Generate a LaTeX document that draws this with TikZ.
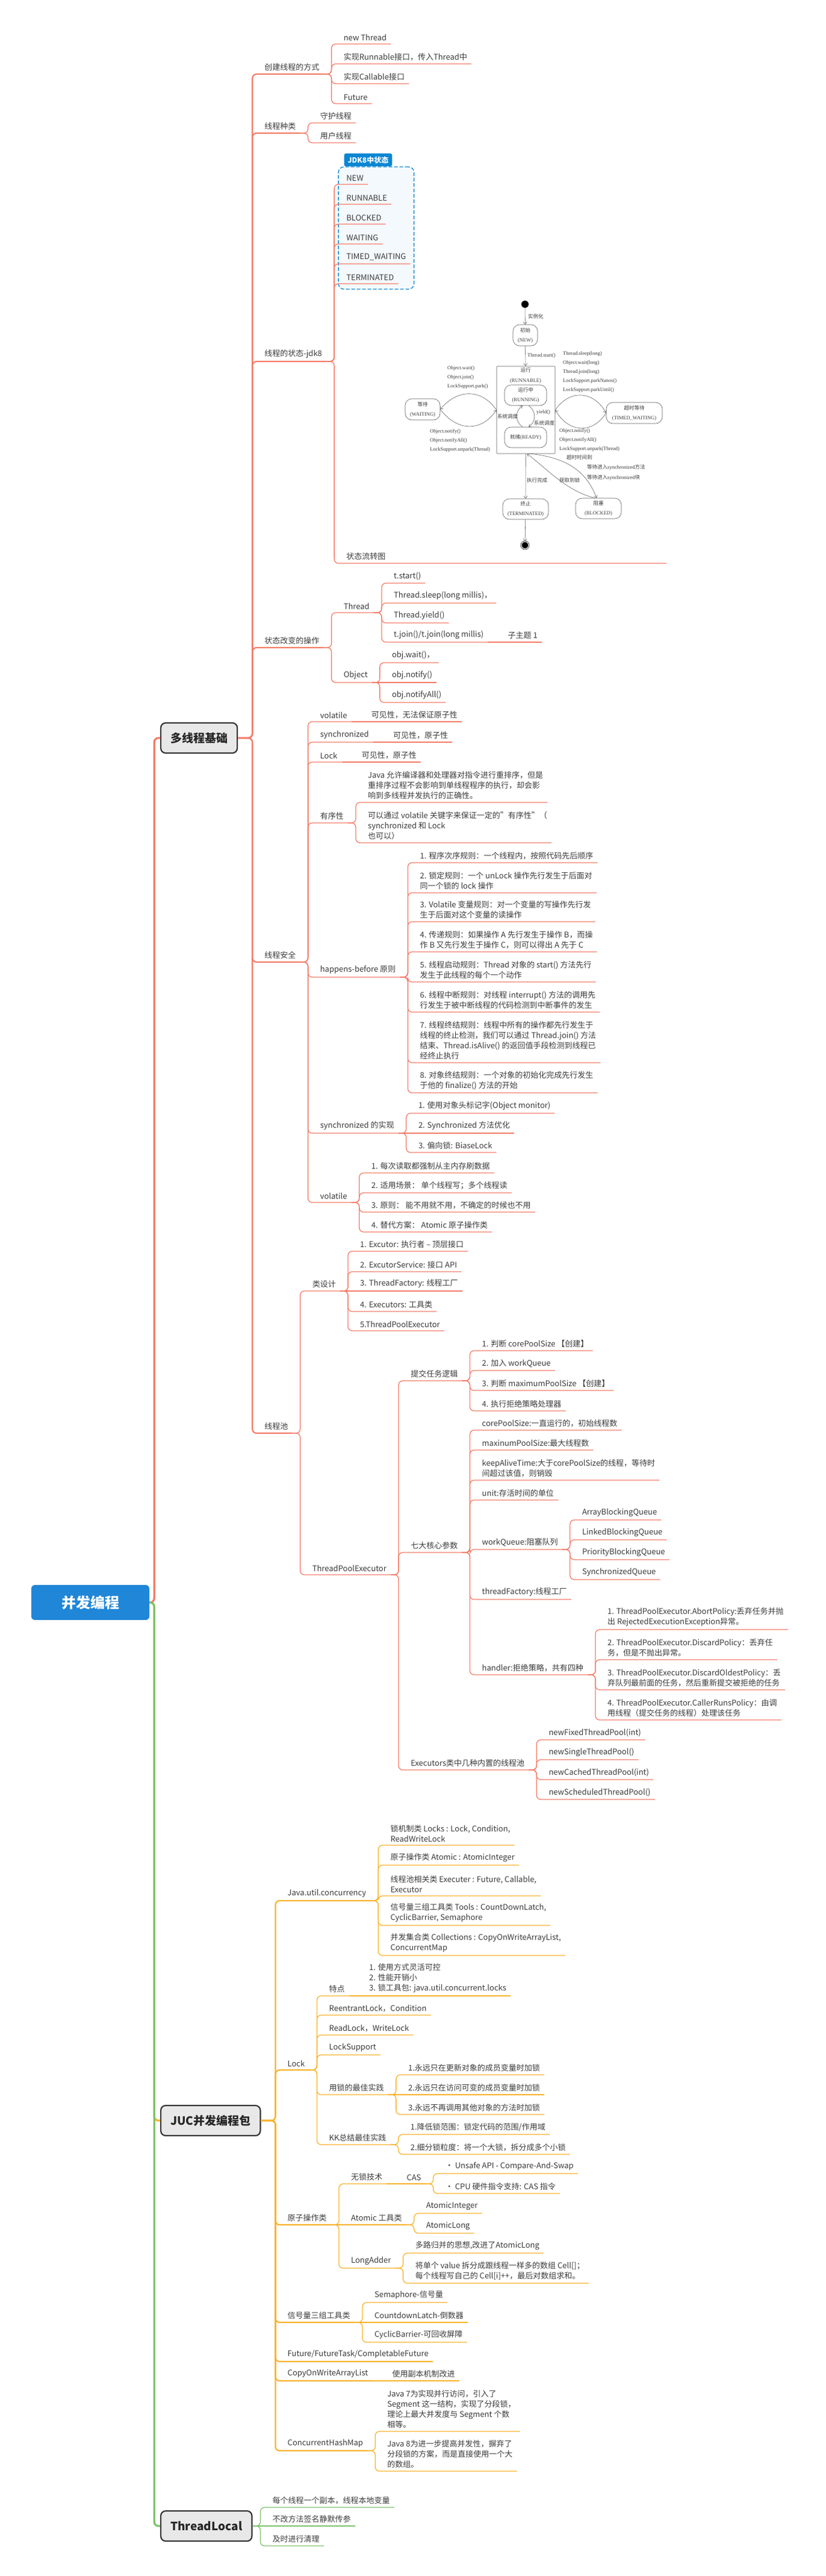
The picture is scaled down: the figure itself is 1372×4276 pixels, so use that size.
\documentclass[tikz,border=0pt]{standalone}
\usepackage{fontspec}
\setmainfont{Noto Sans CJK SC}
\newfontfamily\cjk{Noto Sans CJK SC}
\newfontfamily\dgfont{Liberation Serif}
\usetikzlibrary{fit,arrows.meta}
\pgfdeclarelayer{bg}
\pgfsetlayers{bg,main}

\definecolor{redline}{HTML}{F47B67}
\definecolor{ornline}{HTML}{F9B22A}
\definecolor{grnline}{HTML}{7CC26A}
\definecolor{txtgray}{HTML}{3C3C3C}
\definecolor{boxfill}{HTML}{E8E8E8}
\definecolor{boxline}{HTML}{353535}
\definecolor{rootblue}{HTML}{1F86D8}
\definecolor{jdkblue}{HTML}{0A86D2}
\definecolor{jdkfill}{HTML}{F4F9FE}
\definecolor{dgline}{HTML}{5A5A5A}

\tikzset{
  topic/.style={anchor=south west, inner xsep=7pt, inner ysep=5pt, align=left, text=txtgray, font=\fontsize{13}{17}\selectfont},
  mainbox/.style={anchor=west, draw=boxline, line width=2.2pt, fill=boxfill, rounded corners=8pt, inner xsep=16pt, minimum height=50pt, text=black!85, font=\fontsize{19}{22}\selectfont\bfseries},
  rootbox/.style={fill=rootblue, rounded corners=6pt, minimum width=196pt, minimum height=58pt, text=white, font=\fontsize{24}{28}\selectfont\bfseries},
  redbr/.style={draw=redline, line width=1.3pt, rounded corners=7pt},
  redmain/.style={redbr, line width=2.2pt},
  redtrunk/.style={redbr, line width=3.2pt},
  ornbr/.style={draw=ornline, line width=1.3pt, rounded corners=7pt},
  ornmain/.style={ornbr, line width=2.2pt},
  orntrunk/.style={ornbr, line width=3.2pt},
  grnbr/.style={draw=grnline, line width=1.3pt, rounded corners=7pt},
  grnmain/.style={grnbr, line width=2.2pt},
  grntrunk/.style={grnbr, line width=3.2pt},
  jdkbox/.style={draw=jdkblue, dash pattern=on 6pt off 3pt, line width=1.3pt, fill=jdkfill, rounded corners=9pt, inner xsep=6pt, inner ysep=9pt},
  jdktab/.style={anchor=south west, fill=jdkblue, text=white, rounded corners=3pt, inner xsep=6pt, inner ysep=5pt, font=\fontsize{12}{14}\selectfont\bfseries},
  stbox/.style={draw=dgline, line width=0.6pt, rounded corners=11pt, align=center, inner sep=1pt, text=txtgray, font=\dgfont\fontsize{8.5}{16}\selectfont},
  dgrect/.style={draw=dgline, line width=0.6pt, rounded corners=1pt, minimum width=97pt, minimum height=145pt, inner sep=0pt},
  dglabel/.style={anchor=west, align=left, inner sep=1pt, text=txtgray, font=\dgfont\fontsize{8.5}{15}\selectfont},
  dgarr/.style={draw=dgline, line width=0.55pt, -{Straight Barb[length=4pt,width=6pt]}},
  startdot/.style={circle, fill=black, inner sep=0pt, minimum size=12pt},
  enddot/.style={circle, fill=black, draw=black, double=white, double distance=1.2pt, line width=0.7pt, inner sep=0pt, minimum size=12pt}
}

\begin{document}
\begin{tikzpicture}[x=1pt,y=-1pt]
\useasboundingbox (0,0) rectangle (1372,4276);
\begin{pgfonlayer}{bg}
\fill[white] (0,0) rectangle (1372,4276);
\end{pgfonlayer}

\node[rootbox] (root) at (150,2660) {并发编程};
\node[mainbox] (base) at (266,1225) {多线程基础};
\node[mainbox] (juc) at (266,3520) {JUC并发编程包};
\node[mainbox] (tl) at (266,4193) {ThreadLocal};

\coordinate (rootJ) at ([xshift=8pt]root.east);
\draw[redtrunk] (root.east) -- (rootJ) |- (base.west);
\draw[orntrunk] (root.east) -- (rootJ) |- (juc.west);
\draw[grntrunk] (root.east) -- (rootJ) |- (tl.west);

\coordinate (baseJ) at ([xshift=24pt]base.east);
\node[topic] (tCreate) at ([xshift=13pt]baseJ |- 0,123) {创建线程的方式};
\node[topic] (tKind) at ([xshift=13pt]baseJ |- 0,221) {线程种类};
\node[topic] (tState) at ([xshift=13pt]baseJ |- 0,600) {线程的状态-jdk8};
\node[topic] (tOps) at ([xshift=13pt]baseJ |- 0,1075) {状态改变的操作};
\node[topic] (tSafe) at ([xshift=13pt]baseJ |- 0,1597) {线程安全};
\node[topic] (tPool) at ([xshift=13pt]baseJ |- 0,2379) {线程池};
\draw[redmain] (base.east) -- (baseJ) |- (tCreate.south east);
\draw[redmain] (base.east) -- (baseJ) |- (tKind.south east);
\draw[redmain] (base.east) -- (baseJ) |- (tState.south east);
\draw[redmain] (base.east) -- (baseJ) |- (tOps.south east);
\draw[redmain] (base.east) -- (baseJ) |- (tSafe.south east);
\draw[redmain] (base.east) -- (baseJ) |- (tPool.south east);

\node[topic] (cNew) at ([xshift=26pt]tCreate.south east |- 0,73) {new Thread};
\node[topic] (cRunnable) at ([xshift=26pt]tCreate.south east |- 0,106) {实现Runnable接口，传入Thread中};
\node[topic] (cCallable) at ([xshift=26pt]tCreate.south east |- 0,139) {实现Callable接口};
\node[topic] (cFuture) at ([xshift=26pt]tCreate.south east |- 0,172) {Future};
\draw[redbr] (tCreate.south east) -- ++(13,0) |- (cNew.south east);
\draw[redbr] (tCreate.south east) -- ++(13,0) |- (cRunnable.south east);
\draw[redbr] (tCreate.south east) -- ++(13,0) |- (cCallable.south east);
\draw[redbr] (tCreate.south east) -- ++(13,0) |- (cFuture.south east);

\node[topic] (kDaemon) at ([xshift=26pt]tKind.south east |- 0,204) {守护线程};
\node[topic] (kUser) at ([xshift=26pt]tKind.south east |- 0,237) {用户线程};
\draw[redbr] (tKind.south east) -- ++(13,0) |- (kDaemon.south east);
\draw[redbr] (tKind.south east) -- ++(13,0) |- (kUser.south east);

\node[topic] (sNew) at ([xshift=26pt]tState.south east |- 0,306) {NEW};
\node[topic] (sRunnable) at ([xshift=26pt]tState.south east |- 0,339) {RUNNABLE};
\node[topic] (sBlocked) at ([xshift=26pt]tState.south east |- 0,372) {BLOCKED};
\node[topic] (sWaiting) at ([xshift=26pt]tState.south east |- 0,405) {WAITING};
\node[topic] (sTimed) at ([xshift=26pt]tState.south east |- 0,438) {TIMED\_WAITING};
\node[topic] (sTerm) at ([xshift=26pt]tState.south east |- 0,471) {TERMINATED};
\node[topic] (sFlow) at ([xshift=26pt]tState.south east |- 0,935) {状态流转图};
\coordinate (flowEnd) at (1107,935);
\begin{pgfonlayer}{bg}
\node[jdkbox, fit=(sNew)(sTimed)(sTerm)] (jdk8) {};
\end{pgfonlayer}
\node[jdktab] (jdkTab) at ([xshift=10pt]jdk8.north west) {JDK8中状态};
\draw[redbr] (tState.south east) -- ++(13,0) |- (sNew.south east);
\draw[redbr] (tState.south east) -- ++(13,0) |- (sRunnable.south east);
\draw[redbr] (tState.south east) -- ++(13,0) |- (sBlocked.south east);
\draw[redbr] (tState.south east) -- ++(13,0) |- (sWaiting.south east);
\draw[redbr] (tState.south east) -- ++(13,0) |- (sTimed.south east);
\draw[redbr] (tState.south east) -- ++(13,0) |- (sTerm.south east);
\draw[redbr] (tState.south east) -- ++(13,0) |- (flowEnd);

\node[startdot] (dStart) at (872,505) {};
\node[stbox, minimum width=41pt, minimum height=35pt] (dNew) at (872.5,556.5) {{\cjk 初始}\\(NEW)};
\node[dgrect] (dRun) at (873.5,680.5) {};
\node[dglabel, anchor=center, align=center, font=\dgfont\fontsize{8.5}{17}\selectfont] (dRunL) at (873,623) {{\cjk 运行}\\(RUNNABLE)};
\node[stbox, minimum width=70pt, minimum height=34pt] (dRunning) at (873,656) {{\cjk 运行中}\\(RUNNING)};
\node[stbox, minimum width=70pt, minimum height=34pt] (dReady) at (873,726) {{\cjk 就绪}(READY)};
\node[stbox, minimum width=58pt, minimum height=35pt] (dWait) at (702,679.5) {{\cjk 等待}\\(WAITING)};
\node[stbox, minimum width=93pt, minimum height=35pt] (dTimed) at (1053.5,685.5) {{\cjk 超时等待}\\(TIMED\_WAITING)};
\node[stbox, minimum width=76pt, minimum height=34pt] (dTerm) at (873,845) {{\cjk 终止}\\(TERMINATED)};
\node[stbox, minimum width=76pt, minimum height=34pt] (dBlock) at (994,844) {{\cjk 阻塞}\\(BLOCKED)};
\node[enddot] (dEnd) at (872,905) {};

\node[dglabel] (lInst) at (876,525) {{\cjk 实例化}};
\node[dglabel] (lStart) at (875,590) {Thread.start()};
\node[dglabel] (lWait) at (742,626) {Object.wait()\\Object.join()\\LockSupport.park()};
\node[dglabel] (lNotifyL) at (713,731) {Object.notify()\\Object.notifyAll()\\LockSupport.unpark(Thread)};
\node[dglabel] (lTimed) at (934,617) {Thread.sleep(long)\\Object.wait(long)\\Thread.join(long)\\LockSupport.parkNanos()\\LockSupport.parkUntil()};
\node[dglabel] (lNotifyR) at (928,730) {Object.notify()\\Object.notifyAll()\\LockSupport.unpark(Thread)};
\node[dglabel] (lTimeout) at (940,759) {{\cjk 超时时间到}};
\node[dglabel] (lSched) at (825,691) {{\cjk 系统调度}};
\node[dglabel] (lYield) at (890,684) {yield()};
\node[dglabel] (lSched2) at (886,702) {{\cjk 系统调度}};
\node[dglabel] (lDone) at (874,797) {{\cjk 执行完成}};
\node[dglabel] (lLock) at (928,797) {{\cjk 获取到锁}};
\node[dglabel, font=\dgfont\fontsize{8.5}{17}\selectfont] (lSyncIn) at (974,784) {{\cjk 等待进入}synchronized{\cjk 方法}\\{\cjk 等待进入}synchronized{\cjk 块}};

\draw[dgarr] (dStart) -- (dNew);
\draw[dgarr] (dNew) -- (dRun);
\draw[dgarr] (dRun.west) .. controls (800,645) and (760,645) .. (dWait.east);
\draw[dgarr] (dWait.east) .. controls (760,717) and (800,717) .. (dRun.west);
\draw[dgarr] (dRun.east) .. controls (945,647) and (985,647) .. (dTimed.west);
\draw[dgarr] (dTimed.west) .. controls (985,720) and (945,720) .. (dRun.east);
\draw[dgarr] ([xshift=-5pt]dReady.north) .. controls +(-13,-9) and +(-13,9) .. ([xshift=-5pt]dRunning.south);
\draw[dgarr] ([xshift=5pt]dRunning.south) .. controls +(13,9) and +(13,-9) .. ([xshift=5pt]dReady.north);
\draw[dgarr] (dRun) -- (dTerm);
\draw[dgarr] ([xshift=-6pt]dBlock.north) .. controls (940,815) and (905,775) .. ([xshift=2pt]dRun.south);
\draw[dgarr] ([xshift=8pt]dRun.south) .. controls (945,760) and (975,785) .. ([xshift=-3pt]dBlock.north);
\draw[dgarr] (dTerm) -- (dEnd);

\node[topic] (oThread) at ([xshift=26pt]tOps.south east |- 0,1017) {Thread};
\node[topic] (oObject) at ([xshift=26pt]tOps.south east |- 0,1133) {Object};
\draw[redbr] (tOps.south east) -- ++(13,0) |- (oThread.south east);
\draw[redbr] (tOps.south east) -- ++(13,0) |- (oObject.south east);
\node[topic] (oStart) at ([xshift=26pt]oThread.south east |- 0,968) {t.start()};
\node[topic] (oSleep) at ([xshift=26pt]oThread.south east |- 0,1001) {Thread.sleep(long millis)，};
\node[topic] (oYield) at ([xshift=26pt]oThread.south east |- 0,1034) {Thread.yield()};
\node[topic] (oJoin) at ([xshift=26pt]oThread.south east |- 0,1066) {t.join()/t.join(long millis)};
\node[topic] (oSub) at ([xshift=26pt]oJoin.south east) {子主题 1};
\draw[redbr] (oThread.south east) -- ++(13,0) |- (oStart.south east);
\draw[redbr] (oThread.south east) -- ++(13,0) |- (oSleep.south east);
\draw[redbr] (oThread.south east) -- ++(13,0) |- (oYield.south east);
\draw[redbr] (oThread.south east) -- ++(13,0) |- (oJoin.south east);
\draw[redbr] (oJoin.south east) -- (oSub.south east);
\node[topic] (oWait) at ([xshift=26pt]oObject.south east |- 0,1100) {obj.wait()，};
\node[topic] (oNotify) at ([xshift=26pt]oObject.south east |- 0,1133) {obj.notify()};
\node[topic] (oNotifyAll) at ([xshift=26pt]oObject.south east |- 0,1166) {obj.notifyAll()};
\draw[redbr] (oObject.south east) -- ++(13,0) |- (oWait.south east);
\draw[redbr] (oObject.south east) -- (oNotify.south east);
\draw[redbr] (oObject.south east) -- ++(13,0) |- (oNotifyAll.south east);

\node[topic] (fVol) at ([xshift=26pt]tSafe.south east |- 0,1198) {volatile};
\node[topic] (fVolNote) at ([xshift=26pt]fVol.south east) {可见性，无法保证原子性};
\node[topic] (fSync) at ([xshift=26pt]tSafe.south east |- 0,1232) {synchronized};
\node[topic] (fSyncNote) at ([xshift=26pt]fSync.south east) {可见性，原子性};
\node[topic] (fLock) at ([xshift=26pt]tSafe.south east |- 0,1265) {Lock};
\node[topic] (fLockNote) at ([xshift=26pt]fLock.south east) {可见性，原子性};
\node[topic] (fOrder) at ([xshift=26pt]tSafe.south east |- 0,1366) {有序性};
\node[topic] (fHb) at ([xshift=26pt]tSafe.south east |- 0,1622) {happens-before 原则};
\node[topic] (fSyncImpl) at ([xshift=26pt]tSafe.south east |- 0,1881) {synchronized 的实现};
\node[topic] (fVolatile) at ([xshift=26pt]tSafe.south east |- 0,1996) {volatile};
\draw[redbr] (tSafe.south east) -- ++(13,0) |- (fVol.south east);
\draw[redbr] (tSafe.south east) -- ++(13,0) |- (fSync.south east);
\draw[redbr] (tSafe.south east) -- ++(13,0) |- (fLock.south east);
\draw[redbr] (tSafe.south east) -- ++(13,0) |- (fOrder.south east);
\draw[redbr] (tSafe.south east) -- ++(13,0) |- (fHb.south east);
\draw[redbr] (tSafe.south east) -- ++(13,0) |- (fSyncImpl.south east);
\draw[redbr] (tSafe.south east) -- ++(13,0) |- (fVolatile.south east);
\draw[redbr] (fVol.south east) -- (fVolNote.south east);
\draw[redbr] (fSync.south east) -- (fSyncNote.south east);
\draw[redbr] (fLock.south east) -- (fLockNote.south east);

\node[topic] (fOrderA) at ([xshift=26pt]fOrder.south east |- 0,1332) {Java 允许编译器和处理器对指令进行重排序，但是\\重排序过程不会影响到单线程程序的执行，却会影\\响到多线程并发执行的正确性。};
\node[topic] (fOrderB) at ([xshift=26pt]fOrder.south east |- 0,1399) {可以通过 volatile 关键字来保证一定的"有序性"（\\synchronized 和 Lock\\也可以）};
\draw[redbr] (fOrder.south east) -- ++(13,0) |- (fOrderA.south east);
\draw[redbr] (fOrder.south east) -- ++(13,0) |- (fOrderB.south east);

\node[topic] (hb1) at ([xshift=26pt]fHb.south east |- 0,1432) {1. 程序次序规则：一个线程内，按照代码先后顺序};
\node[topic] (hb2) at ([xshift=26pt]fHb.south east |- 0,1482) {2. 锁定规则：一个 unLock 操作先行发生于后面对\\同一个锁的 lock 操作};
\node[topic] (hb3) at ([xshift=26pt]fHb.south east |- 0,1530) {3. Volatile 变量规则：对一个变量的写操作先行发\\生于后面对这个变量的读操作};
\node[topic] (hb4) at ([xshift=26pt]fHb.south east |- 0,1580) {4. 传递规则：如果操作 A 先行发生于操作 B，而操\\作 B 又先行发生于操作 C，则可以得出 A 先于 C};
\node[topic] (hb5) at ([xshift=26pt]fHb.south east |- 0,1630) {5. 线程启动规则：Thread 对象的 start() 方法先行\\发生于此线程的每个一个动作};
\node[topic] (hb6) at ([xshift=26pt]fHb.south east |- 0,1680) {6. 线程中断规则：对线程 interrupt() 方法的调用先\\行发生于被中断线程的代码检测到中断事件的发生};
\node[topic] (hb7) at ([xshift=26pt]fHb.south east |- 0,1764) {7. 线程终结规则：线程中所有的操作都先行发生于\\线程的终止检测，我们可以通过 Thread.join() 方法\\结束、Thread.isAlive() 的返回值手段检测到线程已\\经终止执行};
\node[topic] (hb8) at ([xshift=26pt]fHb.south east |- 0,1814) {8. 对象终结规则：一个对象的初始化完成先行发生\\于他的 finalize() 方法的开始};
\draw[redbr] (fHb.south east) -- ++(13,0) |- (hb1.south east);
\draw[redbr] (fHb.south east) -- ++(13,0) |- (hb2.south east);
\draw[redbr] (fHb.south east) -- ++(13,0) |- (hb3.south east);
\draw[redbr] (fHb.south east) -- ++(13,0) |- (hb4.south east);
\draw[redbr] (fHb.south east) -- ++(13,0) |- (hb5.south east);
\draw[redbr] (fHb.south east) -- ++(13,0) |- (hb6.south east);
\draw[redbr] (fHb.south east) -- ++(13,0) |- (hb7.south east);
\draw[redbr] (fHb.south east) -- ++(13,0) |- (hb8.south east);

\node[topic] (si1) at ([xshift=26pt]fSyncImpl.south east |- 0,1848) {1. 使用对象头标记字(Object monitor)};
\node[topic] (si2) at ([xshift=26pt]fSyncImpl.south east |- 0,1881) {2. Synchronized 方法优化};
\node[topic] (si3) at ([xshift=26pt]fSyncImpl.south east |- 0,1913) {3. 偏向锁: BiaseLock};
\draw[redbr] (fSyncImpl.south east) -- ++(13,0) |- (si1.south east);
\draw[redbr] (fSyncImpl.south east) -- (si2.south east);
\draw[redbr] (fSyncImpl.south east) -- ++(13,0) |- (si3.south east);

\node[topic] (v1) at ([xshift=26pt]fVolatile.south east |- 0,1947) {1. 每次读取都强制从主内存刷数据};
\node[topic] (v2) at ([xshift=26pt]fVolatile.south east |- 0,1980) {2. 适用场景： 单个线程写；多个线程读};
\node[topic] (v3) at ([xshift=26pt]fVolatile.south east |- 0,2012) {3. 原则： 能不用就不用，不确定的时候也不用};
\node[topic] (v4) at ([xshift=26pt]fVolatile.south east |- 0,2045) {4. 替代方案： Atomic 原子操作类};
\draw[redbr] (fVolatile.south east) -- ++(13,0) |- (v1.south east);
\draw[redbr] (fVolatile.south east) -- ++(13,0) |- (v2.south east);
\draw[redbr] (fVolatile.south east) -- ++(13,0) |- (v3.south east);
\draw[redbr] (fVolatile.south east) -- ++(13,0) |- (v4.south east);

\node[topic] (pDesign) at ([xshift=26pt]tPool.south east |- 0,2143) {类设计};
\node[topic] (pTpe) at ([xshift=26pt]tPool.south east |- 0,2614) {ThreadPoolExecutor};
\draw[redbr] (tPool.south east) -- ++(13,0) |- (pDesign.south east);
\draw[redbr] (tPool.south east) -- ++(13,0) |- (pTpe.south east);
\node[topic] (pd1) at ([xshift=26pt]pDesign.south east |- 0,2077) {1. Excutor: 执行者 – 顶层接口};
\node[topic] (pd2) at ([xshift=26pt]pDesign.south east |- 0,2111) {2. ExcutorService: 接口 API};
\node[topic] (pd3) at ([xshift=26pt]pDesign.south east |- 0,2143) {3. ThreadFactory: 线程工厂};
\node[topic] (pd4) at ([xshift=26pt]pDesign.south east |- 0,2177) {4. Executors: 工具类};
\node[topic] (pd5) at ([xshift=26pt]pDesign.south east |- 0,2209) {5.ThreadPoolExecutor};
\draw[redbr] (pDesign.south east) -- ++(13,0) |- (pd1.south east);
\draw[redbr] (pDesign.south east) -- ++(13,0) |- (pd2.south east);
\draw[redbr] (pDesign.south east) -- (pd3.south east);
\draw[redbr] (pDesign.south east) -- ++(13,0) |- (pd4.south east);
\draw[redbr] (pDesign.south east) -- ++(13,0) |- (pd5.south east);

\node[topic] (pSubmit) at ([xshift=26pt]pTpe.south east |- 0,2292) {提交任务逻辑};
\node[topic] (pParam) at ([xshift=26pt]pTpe.south east |- 0,2577) {七大核心参数};
\node[topic] (pExec) at ([xshift=26pt]pTpe.south east |- 0,2938) {Executors类中几种内置的线程池};
\draw[redbr] (pTpe.south east) -- ++(13,0) |- (pSubmit.south east);
\draw[redbr] (pTpe.south east) -- ++(13,0) |- (pParam.south east);
\draw[redbr] (pTpe.south east) -- ++(13,0) |- (pExec.south east);

\node[topic] (ps1) at ([xshift=26pt]pSubmit.south east |- 0,2242) {1. 判断 corePoolSize 【创建】};
\node[topic] (ps2) at ([xshift=26pt]pSubmit.south east |- 0,2275) {2. 加入 workQueue};
\node[topic] (ps3) at ([xshift=26pt]pSubmit.south east |- 0,2308) {3. 判断 maximumPoolSize 【创建】};
\node[topic] (ps4) at ([xshift=26pt]pSubmit.south east |- 0,2342) {4. 执行拒绝策略处理器};
\draw[redbr] (pSubmit.south east) -- ++(13,0) |- (ps1.south east);
\draw[redbr] (pSubmit.south east) -- ++(13,0) |- (ps2.south east);
\draw[redbr] (pSubmit.south east) -- ++(13,0) |- (ps3.south east);
\draw[redbr] (pSubmit.south east) -- ++(13,0) |- (ps4.south east);

\node[topic] (pp1) at ([xshift=26pt]pParam.south east |- 0,2374) {corePoolSize:一直运行的，初始线程数};
\node[topic] (pp2) at ([xshift=26pt]pParam.south east |- 0,2407) {maxinumPoolSize:最大线程数};
\node[topic] (pp3) at ([xshift=26pt]pParam.south east |- 0,2457) {keepAliveTime:大于corePoolSize的线程，等待时\\间超过该值，则销毁};
\node[topic] (pp4) at ([xshift=26pt]pParam.south east |- 0,2490) {unit:存活时间的单位};
\node[topic] (pp5) at ([xshift=26pt]pParam.south east |- 0,2572) {workQueue:阻塞队列};
\node[topic] (pp6) at ([xshift=26pt]pParam.south east |- 0,2655) {threadFactory:线程工厂};
\node[topic] (pp7) at ([xshift=26pt]pParam.south east |- 0,2780) {handler:拒绝策略，共有四种};
\draw[redbr] (pParam.south east) -- ++(13,0) |- (pp1.south east);
\draw[redbr] (pParam.south east) -- ++(13,0) |- (pp2.south east);
\draw[redbr] (pParam.south east) -- ++(13,0) |- (pp3.south east);
\draw[redbr] (pParam.south east) -- ++(13,0) |- (pp4.south east);
\draw[redbr] (pParam.south east) -- ++(13,0) |- (pp5.south east);
\draw[redbr] (pParam.south east) -- ++(13,0) |- (pp6.south east);
\draw[redbr] (pParam.south east) -- ++(13,0) |- (pp7.south east);

\node[topic] (q1) at ([xshift=26pt]pp5.south east |- 0,2523) {ArrayBlockingQueue};
\node[topic] (q2) at ([xshift=26pt]pp5.south east |- 0,2556) {LinkedBlockingQueue};
\node[topic] (q3) at ([xshift=26pt]pp5.south east |- 0,2589) {PriorityBlockingQueue};
\node[topic] (q4) at ([xshift=26pt]pp5.south east |- 0,2622) {SynchronizedQueue};
\draw[redbr] (pp5.south east) -- ++(13,0) |- (q1.south east);
\draw[redbr] (pp5.south east) -- ++(13,0) |- (q2.south east);
\draw[redbr] (pp5.south east) -- ++(13,0) |- (q3.south east);
\draw[redbr] (pp5.south east) -- ++(13,0) |- (q4.south east);

\node[topic] (h1) at ([xshift=26pt]pp7.south east |- 0,2705) {1. ThreadPoolExecutor.AbortPolicy:丢弃任务并抛\\出 RejectedExecutionException异常。};
\node[topic] (h2) at ([xshift=26pt]pp7.south east |- 0,2755) {2. ThreadPoolExecutor.DiscardPolicy：丢弃任\\务，但是不抛出异常。};
\node[topic] (h3) at ([xshift=26pt]pp7.south east |- 0,2805) {3. ThreadPoolExecutor.DiscardOldestPolicy：丢\\弃队列最前面的任务，然后重新提交被拒绝的任务};
\node[topic] (h4) at ([xshift=26pt]pp7.south east |- 0,2855) {4. ThreadPoolExecutor.CallerRunsPolicy：由调\\用线程（提交任务的线程）处理该任务};
\draw[redbr] (pp7.south east) -- ++(13,0) |- (h1.south east);
\draw[redbr] (pp7.south east) -- ++(13,0) |- (h2.south east);
\draw[redbr] (pp7.south east) -- ++(13,0) |- (h3.south east);
\draw[redbr] (pp7.south east) -- ++(13,0) |- (h4.south east);

\node[topic] (e1) at ([xshift=26pt]pExec.south east |- 0,2888) {newFixedThreadPool(int)};
\node[topic] (e2) at ([xshift=26pt]pExec.south east |- 0,2921) {newSingleThreadPool()};
\node[topic] (e3) at ([xshift=26pt]pExec.south east |- 0,2954) {newCachedThreadPool(int)};
\node[topic] (e4) at ([xshift=26pt]pExec.south east |- 0,2987) {newScheduledThreadPool()};
\draw[redbr] (pExec.south east) -- ++(13,0) |- (e1.south east);
\draw[redbr] (pExec.south east) -- ++(13,0) |- (e2.south east);
\draw[redbr] (pExec.south east) -- ++(13,0) |- (e3.south east);
\draw[redbr] (pExec.south east) -- ++(13,0) |- (e4.south east);

\coordinate (jucJ) at ([xshift=24pt]juc.east);
\node[topic] (jConc) at ([xshift=13pt]jucJ |- 0,3155) {Java.util.concurrency};
\node[topic] (jLock) at ([xshift=13pt]jucJ |- 0,3436) {Lock};
\node[topic] (jAtom) at ([xshift=13pt]jucJ |- 0,3693) {原子操作类};
\node[topic] (jSem) at ([xshift=13pt]jucJ |- 0,3855) {信号量三组工具类};
\node[topic] (jFut) at ([xshift=13pt]jucJ |- 0,3920) {Future/FutureTask/CompletableFuture};
\node[topic] (jCow) at ([xshift=13pt]jucJ |- 0,3952) {CopyOnWriteArrayList};
\node[topic] (jChm) at ([xshift=13pt]jucJ |- 0,4068) {ConcurrentHashMap};
\draw[ornmain] (juc.east) -- (jucJ) |- (jConc.south east);
\draw[ornmain] (juc.east) -- (jucJ) |- (jLock.south east);
\draw[ornmain] (juc.east) -- (jucJ) |- (jAtom.south east);
\draw[ornmain] (juc.east) -- (jucJ) |- (jSem.south east);
\draw[ornmain] (juc.east) -- (jucJ) |- (jFut.south east);
\draw[ornmain] (juc.east) -- (jucJ) |- (jCow.south east);
\draw[ornmain] (juc.east) -- (jucJ) |- (jChm.south east);

\node[topic] (jc1) at ([xshift=26pt]jConc.south east |- 0,3063) {锁机制类 Locks : Lock, Condition,\\ReadWriteLock};
\node[topic] (jc2) at ([xshift=26pt]jConc.south east |- 0,3096) {原子操作类 Atomic : AtomicInteger};
\node[topic] (jc3) at ([xshift=26pt]jConc.south east |- 0,3147) {线程池相关类 Executer : Future, Callable,\\Executor};
\node[topic] (jc4) at ([xshift=26pt]jConc.south east |- 0,3196) {信号量三组工具类 Tools : CountDownLatch,\\CyclicBarrier, Semaphore};
\node[topic] (jc5) at ([xshift=26pt]jConc.south east |- 0,3246) {并发集合类 Collections : CopyOnWriteArrayList,\\ConcurrentMap};
\draw[ornbr] (jConc.south east) -- ++(13,0) |- (jc1.south east);
\draw[ornbr] (jConc.south east) -- ++(13,0) |- (jc2.south east);
\draw[ornbr] (jConc.south east) -- ++(13,0) |- (jc3.south east);
\draw[ornbr] (jConc.south east) -- ++(13,0) |- (jc4.south east);
\draw[ornbr] (jConc.south east) -- ++(13,0) |- (jc5.south east);

\node[topic] (jl1) at ([xshift=26pt]jLock.south east |- 0,3313) {特点};
\node[topic] (jl1Note) at ([xshift=26pt]jl1.south east) {1. 使用方式灵活可控\\2. 性能开销小\\3. 锁工具包: java.util.concurrent.locks};
\node[topic] (jl2) at ([xshift=26pt]jLock.south east |- 0,3345) {ReentrantLock，Condition};
\node[topic] (jl3) at ([xshift=26pt]jLock.south east |- 0,3378) {ReadLock，WriteLock};
\node[topic] (jl4) at ([xshift=26pt]jLock.south east |- 0,3411) {LockSupport};
\node[topic] (jl5) at ([xshift=26pt]jLock.south east |- 0,3477) {用锁的最佳实践};
\node[topic] (jl6) at ([xshift=26pt]jLock.south east |- 0,3560) {KK总结最佳实践};
\draw[ornbr] (jLock.south east) -- ++(13,0) |- (jl1.south east);
\draw[ornbr] (jLock.south east) -- ++(13,0) |- (jl2.south east);
\draw[ornbr] (jLock.south east) -- ++(13,0) |- (jl3.south east);
\draw[ornbr] (jLock.south east) -- ++(13,0) |- (jl4.south east);
\draw[ornbr] (jLock.south east) -- ++(13,0) |- (jl5.south east);
\draw[ornbr] (jLock.south east) -- ++(13,0) |- (jl6.south east);
\draw[ornbr] (jl1.south east) -- (jl1Note.south east);

\node[topic] (bp1) at ([xshift=26pt]jl5.south east |- 0,3444) {1.永远只在更新对象的成员变量时加锁};
\node[topic] (bp2) at ([xshift=26pt]jl5.south east |- 0,3477) {2.永远只在访问可变的成员变量时加锁};
\node[topic] (bp3) at ([xshift=26pt]jl5.south east |- 0,3510) {3.永远不再调用其他对象的方法时加锁};
\draw[ornbr] (jl5.south east) -- ++(13,0) |- (bp1.south east);
\draw[ornbr] (jl5.south east) -- (bp2.south east);
\draw[ornbr] (jl5.south east) -- ++(13,0) |- (bp3.south east);
\node[topic] (kk1) at ([xshift=26pt]jl6.south east |- 0,3543) {1.降低锁范围：锁定代码的范围/作用域};
\node[topic] (kk2) at ([xshift=26pt]jl6.south east |- 0,3576) {2.细分锁粒度：将一个大锁，拆分成多个小锁};
\draw[ornbr] (jl6.south east) -- ++(13,0) |- (kk1.south east);
\draw[ornbr] (jl6.south east) -- ++(13,0) |- (kk2.south east);

\node[topic] (ja1) at ([xshift=26pt]jAtom.south east |- 0,3625) {无锁技术};
\node[topic] (jaCas) at ([xshift=26pt]ja1.south east) {CAS};
\node[topic] (ja2) at ([xshift=26pt]jAtom.south east |- 0,3693) {Atomic 工具类};
\node[topic] (ja3) at ([xshift=26pt]jAtom.south east |- 0,3765) {LongAdder};
\draw[ornbr] (jAtom.south east) -- ++(13,0) |- (ja1.south east);
\draw[ornbr] (jAtom.south east) -- (ja2.south east);
\draw[ornbr] (jAtom.south east) -- ++(13,0) |- (ja3.south east);
\draw[ornbr] (ja1.south east) -- (jaCas.south east);
\node[topic] (cas1) at ([xshift=26pt]jaCas.south east |- 0,3608) {· Unsafe API - Compare-And-Swap};
\node[topic] (cas2) at ([xshift=26pt]jaCas.south east |- 0,3641) {· CPU 硬件指令支持: CAS 指令};
\draw[ornbr] (jaCas.south east) -- ++(13,0) |- (cas1.south east);
\draw[ornbr] (jaCas.south east) -- ++(13,0) |- (cas2.south east);
\node[topic] (ai1) at ([xshift=26pt]ja2.south east |- 0,3674) {AtomicInteger};
\node[topic] (ai2) at ([xshift=26pt]ja2.south east |- 0,3707) {AtomicLong};
\draw[ornbr] (ja2.south east) -- ++(13,0) |- (ai1.south east);
\draw[ornbr] (ja2.south east) -- ++(13,0) |- (ai2.south east);
\node[topic] (la1) at ([xshift=26pt]ja3.south east |- 0,3740) {多路归并的思想,改进了AtomicLong};
\node[topic] (la2) at ([xshift=26pt]ja3.south east |- 0,3790) {将单个 value 拆分成跟线程一样多的数组 Cell[]；\\每个线程写自己的 Cell[i]++，最后对数组求和。};
\draw[ornbr] (ja3.south east) -- ++(13,0) |- (la1.south east);
\draw[ornbr] (ja3.south east) -- ++(13,0) |- (la2.south east);

\node[topic] (sm1) at ([xshift=26pt]jSem.south east |- 0,3822) {Semaphore-信号量};
\node[topic] (sm2) at ([xshift=26pt]jSem.south east |- 0,3855) {CountdownLatch-倒数器};
\node[topic] (sm3) at ([xshift=26pt]jSem.south east |- 0,3888) {CyclicBarrier-可回收屏障};
\draw[ornbr] (jSem.south east) -- ++(13,0) |- (sm1.south east);
\draw[ornbr] (jSem.south east) -- (sm2.south east);
\draw[ornbr] (jSem.south east) -- ++(13,0) |- (sm3.south east);

\node[topic] (jCowNote) at ([xshift=26pt]jCow.south east) {使用副本机制改进};
\draw[ornbr] (jCow.south east) -- (jCowNote.south east);

\node[topic] (ch1) at ([xshift=26pt]jChm.south east |- 0,4036) {Java 7为实现并行访问，引入了\\Segment 这一结构，实现了分段锁，\\理论上最大并发度与 Segment 个数\\相等。};
\node[topic] (ch2) at ([xshift=26pt]jChm.south east |- 0,4102) {Java 8为进一步提高并发性，摒弃了\\分段锁的方案，而是直接使用一个大\\的数组。};
\draw[ornbr] (jChm.south east) -- ++(13,0) |- (ch1.south east);
\draw[ornbr] (jChm.south east) -- ++(13,0) |- (ch2.south east);

\coordinate (tlJ) at ([xshift=13pt]tl.east);
\node[topic] (tl1) at ([xshift=13pt]tlJ |- 0,4162) {每个线程一个副本，线程本地变量};
\node[topic] (tl2) at ([xshift=13pt]tlJ |- 0,4193) {不改方法签名静默传参};
\node[topic] (tl3) at ([xshift=13pt]tlJ |- 0,4226) {及时进行清理};
\draw[grnbr] (tl.east) -- (tlJ) |- (tl1.south east);
\draw[grnbr] (tl.east) -- (tl2.south east);
\draw[grnbr] (tl.east) -- (tlJ) |- (tl3.south east);

\end{tikzpicture}
\end{document}
